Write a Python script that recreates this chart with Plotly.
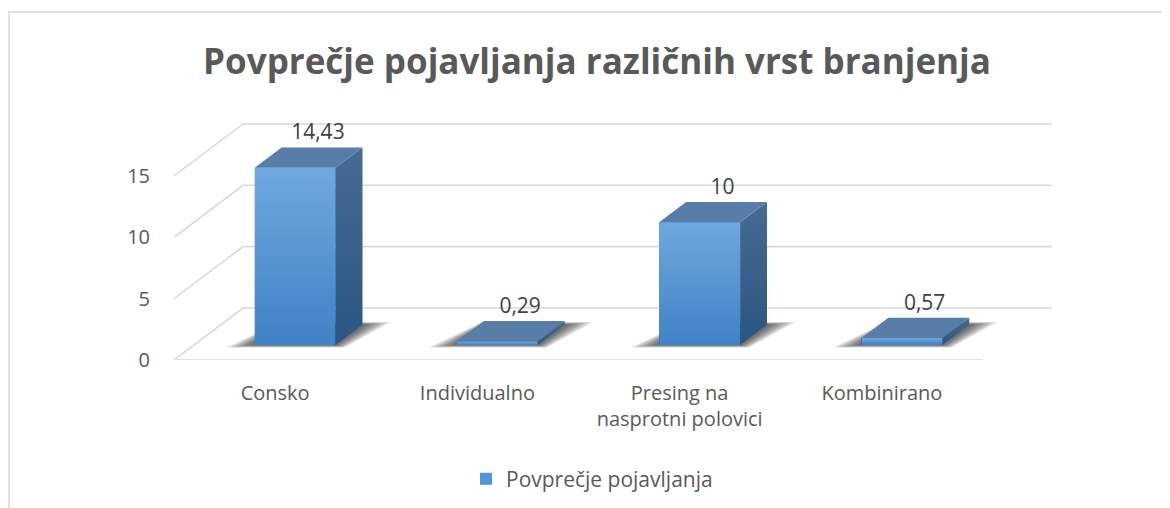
import plotly.graph_objects as go

# ---- data ----
categories = ["Consko", "Individualno", "Presing na<br>nasprotni polovici", "Kombinirano"]
values = [14.43, 0.29, 10, 0.57]
y_ticks = [0, 5, 10, 15]
series_name = "Povprečje pojavljanja"
title_text = "Povprečje pojavljanja različnih vrst branjenja"

# ---- geometry (oblique 3D projection onto a 2D cartesian plot) ----
OFF = 8                      # page body margin of the html page
W, H = 1170, 508
PLOT_L, PLOT_R, PLOT_T, PLOT_B = 174 - OFF, 1060 - OFF, 100 - OFF, 360 - OFF
ML, MR, MT, MB = PLOT_L, W - PLOT_R, PLOT_T, H - PLOT_B
PW = PLOT_R - PLOT_L
PH = PLOT_B - PLOT_T
PX_PER_CAT = 202.25
PX_PER_VAL = 12.27
XR = PW / PX_PER_CAT
YR = PH / PX_PER_VAL
DX = 69 / PX_PER_CAT      # full floor depth offset, x (category units)
DY = 52 / PX_PER_VAL      # full floor depth offset, y (value units)
N = len(categories)
HALF = 0.2
F0, F1 = 0.29, 0.68       # bar depth span (fraction of floor depth)
LABEL_F = 0.62
LABEL_LIFT = 6 / PX_PER_VAL

GRID = "#d9d9d9"
TXT = "#595959"
FONT = "Open Sans"


def proj(x, y, f):
    return x + f * DX, y + f * DY


def poly(pts):
    xs = [p[0] for p in pts] + [pts[0][0]]
    ys = [p[1] for p in pts] + [pts[0][1]]
    return xs, ys


def px_x(p):
    return (p - OFF - PLOT_L) / PW


def px_y(p):
    return (PLOT_B - (p - OFF)) / PH


fig = go.Figure()

# legend / base bar trace (front faces, covered by gradient faces below)
fig.add_trace(go.Bar(
    x=[i + 0.5 + F0 * DX for i in range(N)],
    y=values,
    base=[F0 * DY] * N,
    width=2 * HALF,
    marker=dict(color="#5097d9", line=dict(width=0)),
    name=series_name,
    showlegend=True,
    hoverinfo="skip",
))

# gridlines: left diagonal + back wall line for every tick
for v in y_ticks:
    pts = [proj(0, v, 0), proj(0, v, 1), proj(N, v, 1)]
    fig.add_trace(go.Scatter(
        x=[p[0] for p in pts], y=[p[1] for p in pts], mode="lines",
        line=dict(color=GRID, width=1.6), hoverinfo="skip", showlegend=False))
# floor front edge
fig.add_trace(go.Scatter(
    x=[0, N], y=[0, 0], mode="lines",
    line=dict(color=GRID, width=1.6), hoverinfo="skip", showlegend=False))

# soft shadows on the floor
for i in range(N):
    c = i + 0.5
    for k in range(7):
        ex = (25 - 3.4 * k) / PX_PER_CAT
        ed = 0.05 - 0.007 * k
        pts = [proj(c - HALF - ex, 0, max(F0 - ed, 0)),
               proj(c + HALF + ex * 0.5, 0, max(F0 - ed, 0)),
               proj(c + HALF + ex, 0, F1 + ed),
               proj(c - HALF - ex * 0.2, 0, F1 + ed)]
        xs, ys = poly(pts)
        fig.add_trace(go.Scatter(
            x=xs, y=ys, mode="lines", fill="toself",
            fillcolor="rgba(0,0,0,0.105)", line=dict(width=0),
            hoverinfo="skip", showlegend=False))

# bar faces
for i, v in enumerate(values):
    c = i + 0.5
    l, r = c - HALF, c + HALF
    # front
    xs, ys = poly([proj(l, 0, F0), proj(r, 0, F0), proj(r, v, F0), proj(l, v, F0)])
    fig.add_trace(go.Scatter(
        x=xs, y=ys, mode="lines", fill="toself", line=dict(width=0),
        fillcolor="#5097d9",
        fillgradient=dict(type="vertical",
                          colorscale=[[0, "#3f82c6"], [1, "#70a8de"]]),
        hoverinfo="skip", showlegend=False))
    # right side
    xs, ys = poly([proj(r, 0, F0), proj(r, 0, F1), proj(r, v, F1), proj(r, v, F0)])
    fig.add_trace(go.Scatter(
        x=xs, y=ys, mode="lines", fill="toself", line=dict(width=0),
        fillcolor="#3a6591",
        fillgradient=dict(type="vertical",
                          colorscale=[[0, "#2b5682"], [1, "#466b93"]]),
        hoverinfo="skip", showlegend=False))
    # top
    xs, ys = poly([proj(l, v, F0), proj(r, v, F0), proj(r, v, F1), proj(l, v, F1)])
    fig.add_trace(go.Scatter(
        x=xs, y=ys, mode="lines", fill="toself", line=dict(width=0),
        fillcolor="#587ea8", hoverinfo="skip", showlegend=False))

# data labels
lab = [proj(i + 0.5, v, LABEL_F) for i, v in enumerate(values)]
fig.add_trace(go.Scatter(
    x=[p[0] for p in lab], y=[p[1] + LABEL_LIFT for p in lab], mode="text",
    text=[(f"{v:g}").replace(".", ",") for v in values],
    textposition="top center",
    textfont=dict(family=FONT, size=21, color="#404040"),
    hoverinfo="skip", showlegend=False, cliponaxis=False))

fig.update_layout(
    width=W, height=H,
    margin=dict(l=ML, r=MR, t=MT, b=MB, autoexpand=False),
    paper_bgcolor="white", plot_bgcolor="white",
    font=dict(family=FONT, color=TXT),
    title=dict(text=title_text, x=(597 - OFF) / W, xref="container", xanchor="center",
               y=1 - (62 - OFF) / H, yref="container", yanchor="middle",
               font=dict(family=FONT, size=35, color=TXT, weight="bold")),
    xaxis=dict(range=[0, XR], tickvals=[i + 0.5 for i in range(N)],
               ticktext=categories, showgrid=False, zeroline=False,
               showline=False, ticks="outside", ticklen=15,
               tickcolor="rgba(0,0,0,0)", tickfont=dict(size=20, color=TXT),
               fixedrange=True),
    yaxis=dict(range=[0, YR], tickvals=y_ticks, showgrid=False, zeroline=False,
               showline=False, ticks="outside", ticklen=19,
               tickcolor="rgba(0,0,0,0)", tickfont=dict(size=20, color=TXT),
               fixedrange=True),
    legend=dict(orientation="h", x=px_x(466), xanchor="left",
                y=px_y(479), yanchor="middle",
                font=dict(size=21, color=TXT)),
    bargap=0,
    shapes=[dict(type="rect", xref="paper", yref="paper",
                 x0=px_x(9), x1=px_x(1185),
                 y0=px_y(530), y1=px_y(12),
                 line=dict(color=GRID, width=1.5), fillcolor="rgba(0,0,0,0)",
                 layer="below")],
)

fig.write_html("out.html")
